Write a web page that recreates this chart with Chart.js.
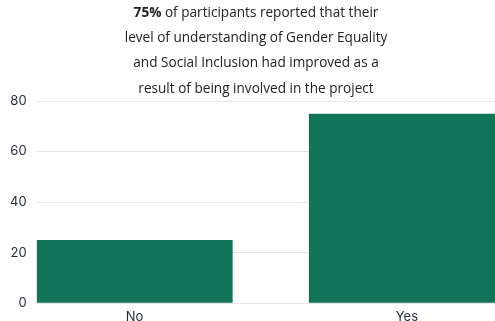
<!DOCTYPE html>
<html>
<head>
<meta charset="utf-8">
<script src="https://cdn.jsdelivr.net/npm/chart.js@4.4.0/dist/chart.umd.min.js"></script>
<style>
  html, body { margin: 0; padding: 0; background: #fff; overflow: hidden; }
  #wrap { width: 512px; height: 321px; }
</style>
</head>
<body>
<div id="wrap"><canvas id="chart"></canvas></div>
<script>
const categories = ['No', 'Yes'];
const values = [25, 75];
const yTicks = [0, 20, 40, 60, 80];
const titleBold = '75%';
const titleLines = [
    ' of participants reported that their',
    'level of understanding of Gender Equality',
    'and Social Inclusion had improved as a',
    'result of being involved in the project'
];

const barColor = '#117458';
const textColor = '#1f2a3c';
const titleFont = '13.6px "Open Sans"';

// title with a bold first word, drawn by hand
const titlePlugin = {
    id: 'richTitle',
    afterDraw(chart) {
        const ctx = chart.ctx;
        const cx = chart.width / 2;
        const lineH = 25.3;
        let y = 13;
        ctx.save();
        ctx.fillStyle = '#222';
        ctx.textBaseline = 'middle';
        titleLines.forEach(function (line, i) {
            if (i == 0) {
                ctx.font = 'bold ' + titleFont;
                const wb = ctx.measureText(titleBold).width;
                ctx.font = titleFont;
                const wr = ctx.measureText(line).width;
                const x0 = cx - (wb + wr) / 2;
                ctx.textAlign = 'left';
                ctx.font = 'bold ' + titleFont;
                ctx.fillText(titleBold, x0, y);
                ctx.font = titleFont;
                ctx.fillText(line, x0 + wb, y);
            } else {
                ctx.textAlign = 'center';
                ctx.font = titleFont;
                ctx.fillText(line, cx, y);
            }
            y += lineH;
        });
        ctx.restore();
    }
};

const points = categories.map(function (c, i) { return { x: i, y: values[i] }; });

new Chart(document.getElementById('chart'), {
    type: 'bar',
    data: {
        datasets: [{
            data: points,
            backgroundColor: barColor,
            borderWidth: 0,
            barPercentage: 0.72,
            categoryPercentage: 1
        }]
    },
    options: {
        responsive: true,
        maintainAspectRatio: false,
        animation: false,
        layout: { padding: { top: 101, left: 0, right: 0, bottom: -10 } },
        plugins: {
            legend: { display: false },
            tooltip: { enabled: false }
        },
        scales: {
            x: {
                type: 'linear',
                offset: false,
                min: -0.36,
                max: 1.386,
                grid: { display: false, drawTicks: false },
                border: { display: false },
                afterBuildTicks: function (axis) {
                    axis.ticks = categories.map(function (c, i) { return { value: i }; });
                },
                ticks: {
                    color: textColor,
                    font: { family: 'Inter', size: 13, lineHeight: 1 },
                    padding: 7,
                    maxRotation: 0,
                    callback: function (v) { return categories[v]; }
                }
            },
            y: {
                min: 0,
                max: 80,
                afterBuildTicks: function (axis) {
                    axis.ticks = yTicks.map(function (v) { return { value: v }; });
                },
                grid: { color: '#e3e5e8', drawTicks: false },
                border: { display: false },
                ticks: {
                    color: textColor,
                    font: { family: 'Inter', size: 13 },
                    padding: 10
                }
            }
        }
    },
    plugins: [titlePlugin]
});
</script>
</body>
</html>
